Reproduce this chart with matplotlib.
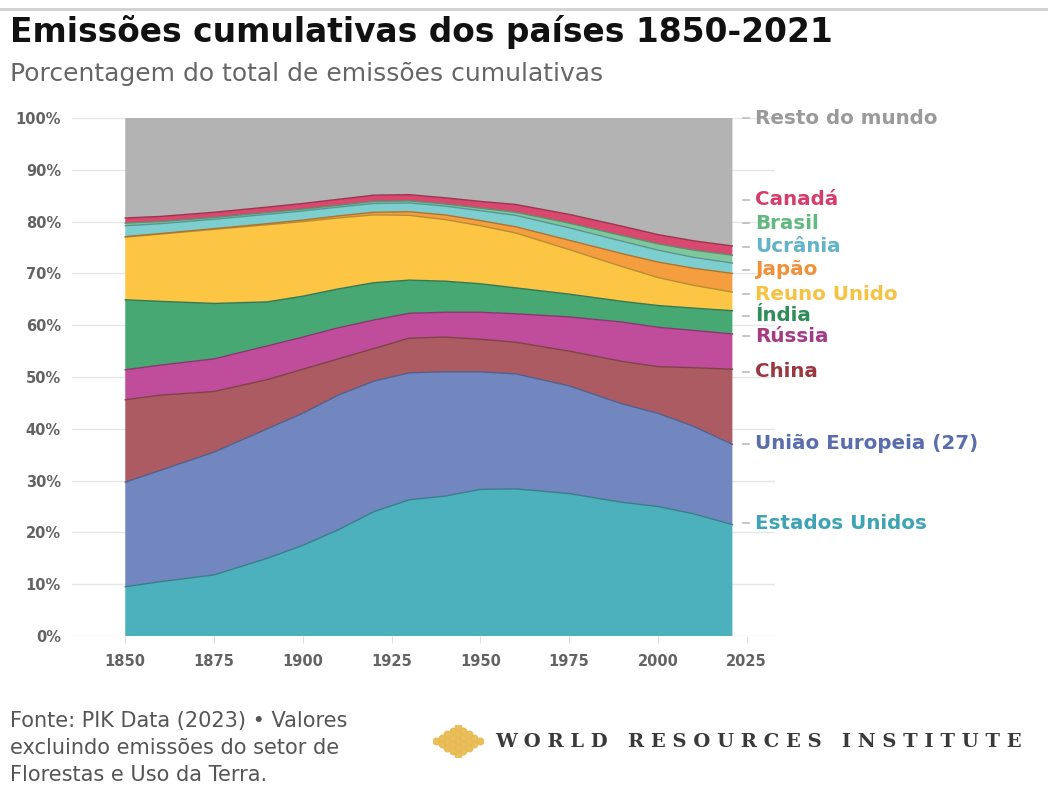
import numpy as np
import matplotlib
matplotlib.use('Agg')
import matplotlib.pyplot as plt
from matplotlib.colors import to_rgb
from matplotlib.lines import Line2D

# ---------------------------------------------------------------------------
# shares of cumulative emissions (%)
years = [1850, 1860, 1875, 1890, 1900, 1910, 1920, 1930, 1940, 1950,
         1960, 1975, 1990, 2000, 2010, 2021]

usa    = [9.5, 10.5, 11.8, 15.0, 17.5, 20.5, 24.0, 26.3, 27.0, 28.3,
          28.4, 27.5, 25.8, 25.0, 23.6, 21.5]
eu27   = [20.2, 21.5, 23.7, 25.0, 25.5, 26.0, 25.2, 24.5, 24.0, 22.7,
          22.2, 20.8, 19.0, 18.0, 16.9, 15.5]
china  = [15.9, 14.5, 11.7, 9.5, 8.5, 7.0, 6.3, 6.7, 6.7, 6.3,
          6.1, 6.7, 8.2, 9.0, 11.3, 14.5]
russia = [5.8, 5.8, 6.3, 6.5, 6.2, 6.0, 5.5, 4.8, 4.8, 5.2,
          5.5, 6.6, 7.6, 7.6, 7.2, 6.8]
india  = [13.5, 12.3, 10.7, 8.5, 7.9, 7.5, 7.2, 6.4, 6.0, 5.5,
          5.0, 4.4, 4.0, 4.2, 4.3, 4.5]
uk     = [12.1, 13.0, 14.3, 14.9, 14.4, 13.7, 13.1, 12.5, 11.9, 11.2,
          10.6, 8.6, 6.7, 5.4, 4.4, 3.6]
japan  = [0.1, 0.1, 0.15, 0.2, 0.3, 0.4, 0.5, 0.7, 0.9, 1.0,
          1.2, 1.8, 2.5, 3.0, 3.3, 3.6]
ukraine = [2.1, 1.9, 1.8, 1.8, 1.75, 1.7, 1.7, 1.7, 1.7, 1.9,
           2.2, 2.4, 2.4, 2.3, 2.1, 2.0]
brazil = [0.5, 0.4, 0.35, 0.35, 0.35, 0.35, 0.4, 0.4, 0.4, 0.5,
          0.6, 0.9, 1.1, 1.2, 1.4, 1.5]
canada = [1.0, 1.0, 1.0, 1.05, 1.1, 1.15, 1.2, 1.2, 1.2, 1.3,
          1.5, 1.7, 1.8, 1.8, 1.8, 1.8]

series = [usa, eu27, china, russia, india, uk, japan, ukraine, brazil, canada]
rest = list(100 - np.sum(series, axis=0))

fill_colors = ['#4db0bd', '#7286c0', '#ad5b63', '#c04d9b', '#47a873',
               '#fdc544', '#f59e3f', '#7dcfcf', '#7fc79b', '#d9486e', '#b3b3b3']

# right-hand labels and where they sit (%)
label_text = ['Resto do mundo', 'Canadá', 'Brasil', 'Ucrânia', 'Japão',
              'Reuno Unido', 'Índia', 'Rússia', 'China',
              'União Europeia (27)', 'Estados Unidos']
label_pos = [100, 84.2, 79.7, 75.1, 70.7, 66.0, 61.8, 57.9, 51.0, 37.1, 21.8]
label_colors = ['#9a9a9a', '#d63c6c', '#62b97f', '#62b3c6', '#f0913a',
                '#f5c242', '#2f8d5a', '#a53a85', '#9a3840', '#5a6dac', '#3ea4b4']

xticks = [1850, 1875, 1900, 1925, 1950, 1975, 2000, 2025]
yticks = list(range(0, 101, 10))


def _darker(c, f=0.72):
    r, g, b = to_rgb(c)
    return (r * f, g * f, b * f)


# ---------------------------------------------------------------------------
W, H = 1048, 787
fig = plt.figure(figsize=(W / 100, H / 100), dpi=100)
fig.patch.set_facecolor('white')

fig.add_artist(Line2D([0, 1], [1 - 9 / H, 1 - 9 / H], color='#d0d0d0', lw=2))

ax = fig.add_axes([72 / W, 1 - 636 / H, 703 / W, 518 / H])
ax.set_xlim(1835, 2033)
ax.set_ylim(0, 100)

ax.stackplot(years, *series, rest, colors=fill_colors, lw=0, zorder=2)
tops = np.cumsum(series, axis=0)
for top, c in zip(tops, fill_colors):
    ax.plot(years, top, color=_darker(c), lw=1.0, zorder=3)

for s in ax.spines.values():
    s.set_visible(False)
ax.set_axisbelow(True)
ax.grid(axis='y', color='#e6e6e6', lw=1, zorder=0)
ax.set_yticks(yticks)
ax.set_yticklabels([f'{v}%' for v in yticks])
ax.set_xticks(xticks)
ax.tick_params(axis='y', length=0, pad=8, labelsize=10.5, labelcolor='#636363')
ax.tick_params(axis='x', length=5, color='#dddddd', pad=8, labelsize=10.5,
               labelcolor='#636363')
for lbl in ax.get_xticklabels() + ax.get_yticklabels():
    lbl.set_fontweight('bold')

for txt, yv, col in zip(label_text, label_pos, label_colors):
    ax.plot([2024.0, 2025.8], [yv, yv], color='#bbbbbb', lw=1.2,
            clip_on=False, zorder=3)
    ax.text(2027.5, yv, txt, color=col, fontsize=14.3, fontweight='bold',
            va='center', ha='left', clip_on=False)

# titles
fig.text(10 / W, 1 - 32 / H, 'Emissões cumulativas dos países 1850-2021',
         fontsize=23.7, fontweight='bold', color='#111111',
         va='center', ha='left')
fig.text(10 / W, 1 - 74 / H, 'Porcentagem do total de emissões cumulativas',
         fontsize=18, color='#666666', va='center', ha='left')

# footnote
fig.text(10 / W, 1 - 748 / H,
         'Fonte: PIK Data (2023) • Valores\nexcluindo emissões do setor de\n'
         'Florestas e Uso da Terra.',
         fontsize=15, color='#555555', va='center', ha='left',
         linespacing=1.42)

# WRI logo
lax = fig.add_axes([433 / W, 1 - 757 / H, 50 / W, 32 / H])
lax.set_axis_off()
gx, gy = [], []
for i in range(-4, 5):
    for j in range(-4, 5):
        if abs(i) + abs(j) <= 4 and (i + j) % 2 == 0:
            gx.append(i)
            gy.append(j)
lax.scatter(gx, gy, s=22, color='#e8b94c', alpha=0.9)
lax.set_xlim(-4.6, 4.6)
lax.set_ylim(-4.6, 4.6)
fig.text(495 / W, 1 - 742 / H,
         '   '.join(' '.join(w) for w in ['WORLD', 'RESOURCES', 'INSTITUTE']),
         fontsize=14, family='DejaVu Serif', fontweight='bold',
         color='#3a3a3a', va='center', ha='left')

fig.savefig('out.png', dpi=100, facecolor='white')
